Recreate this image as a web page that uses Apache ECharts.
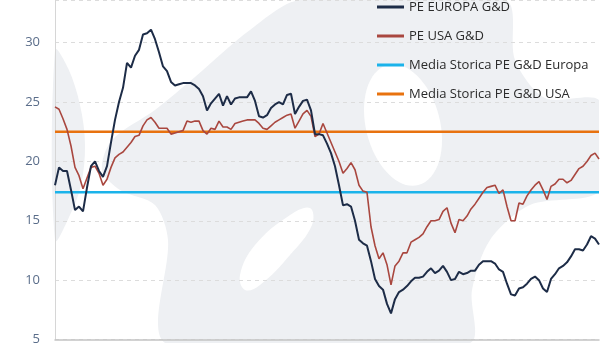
<!DOCTYPE html>
<html>
<head>
<meta charset="utf-8">
<script src="https://cdn.jsdelivr.net/npm/echarts@6/dist/echarts.min.js"></script>
<style>
html,body{margin:0;padding:0;background:#fff;}
#chart{width:614px;height:346px;}
</style>
</head>
<body>
<div id="chart"></div>
<script>
// serie storiche P/E
var peEuropa = [18.0,19.5,19.2,19.2,17.6,15.9,16.2,15.8,17.8,19.6,20.0,19.2,18.7,19.6,21.6,23.5,25.0,26.2,28.3,27.9,
	28.9,29.4,30.7,30.8,31.1,30.3,29.2,28.0,27.6,26.7,26.4,26.5,26.6,26.6,26.6,26.4,26.1,25.5,24.3,24.9,
	25.3,25.7,24.7,25.5,24.8,25.3,25.4,25.4,25.4,25.9,25.1,23.8,23.7,23.9,24.5,24.8,25.0,24.8,25.6,25.7,
	24.0,24.6,25.1,25.2,24.3,22.3,22.3,22.2,21.5,20.7,19.6,18.0,16.3,16.4,16.2,15.0,13.4,13.1,12.9,11.6,
	10.1,9.5,9.2,8.0,7.2,8.4,9.0,9.2,9.5,9.9,10.2,10.2,10.3,10.7,11.0,10.6,10.8,11.2,10.7,10.0,
	10.1,10.7,10.5,10.6,10.8,10.8,11.3,11.6,11.6,11.6,11.4,10.9,10.7,9.7,8.8,8.7,9.3,9.4,9.7,10.1,
	10.3,10.0,9.3,9.0,10.1,10.5,11.0,11.2,11.5,12.0,12.6,12.6,12.5,13.0,13.7,13.5,13.0];
var peUsa = [24.6,24.4,23.6,22.7,21.3,19.5,18.8,17.7,18.6,19.5,19.6,19.0,18.0,18.5,19.5,20.3,20.6,20.8,21.2,21.6,
	22.1,22.2,23.0,23.5,23.7,23.3,22.8,22.8,22.8,22.3,22.4,22.5,22.6,23.4,23.3,23.4,23.4,22.6,22.3,22.8,
	22.7,23.4,22.9,22.9,22.7,23.2,23.3,23.4,23.5,23.5,23.5,23.2,22.8,22.7,23.0,23.3,23.5,23.7,23.9,24.0,
	22.8,23.4,24.0,24.3,23.8,22.1,22.3,23.2,22.4,21.6,20.8,20.0,19.0,19.4,19.9,19.3,18.0,17.5,17.4,14.5,
	12.9,11.8,12.3,11.3,9.6,11.2,11.6,12.3,12.3,13.2,13.4,13.6,13.9,14.5,15.0,15.0,15.1,15.8,16.1,14.8,
	14.0,15.1,15.0,15.4,16.0,16.4,16.9,17.4,17.8,17.9,18.0,17.3,17.6,16.2,15.0,15.0,16.5,16.4,17.1,17.6,
	18.0,18.3,17.6,16.8,17.9,18.1,18.5,18.5,18.2,18.4,18.9,19.4,19.6,20.0,20.5,20.7,20.2];
var mediaEuropa = 17.4;
var mediaUsa = 22.5;
var yTicks = [5,10,15,20,25,30];
var nomi = ['PE EUROPA G&D','PE USA G&D','Media Storica PE G&D Europa','Media Storica PE G&D USA'];

var periodi = [];
for(var i=0;i<peEuropa.length;i++){
	periodi.push(i);
}
var lineaEuropa = [];
var lineaUsa = [];
for(var k=0;k<periodi.length;k++){
	lineaEuropa.push(mediaEuropa);
	lineaUsa.push(mediaUsa);
}

//logo in filigrana sullo sfondo (solo decorazione)
var grigio = '#eef0f3';
var filigrana = [
	{type:'polygon',z:-10,silent:true,style:{fill:grigio},
		shape:{smooth:0.35,points:[[55,50],[68,68],[80,105],[85,145],[81,185],[70,215],[55,240]]}},
	{type:'polygon',z:-10,silent:true,style:{fill:grigio},
		shape:{smooth:0.3,points:[[300,0],[250,30],[195,77],[155,110],[112,140],[102,170],[120,190],[155,205],[168,240],[165,343],
			[320,343],[470,343],[472,290],[490,240],[530,205],[599,192],[599,145],[599,100],[545,98],[515,60],[505,0]]}},
	{type:'ellipse',z:-9,silent:true,style:{fill:'#fff'},rotation:0.25,x:403,y:125,
		shape:{cx:0,cy:0,rx:37,ry:62}},
	{type:'polygon',z:-9,silent:true,style:{fill:'#fff'},
		shape:{smooth:0.4,points:[[240,275],[255,245],[290,215],[310,208],[312,225],[290,255],[260,285],[245,290]]}},
	//ritaglio ai bordi dell'area del grafico
	{type:'rect',z:-8,silent:true,style:{fill:'#fff'},shape:{x:0,y:343,width:614,height:3}},
	{type:'rect',z:-8,silent:true,style:{fill:'#fff'},shape:{x:599,y:0,width:15,height:346}}
];

var myChart = echarts.init(document.getElementById('chart'));
var option = {
	animation:false,
	backgroundColor:'#fff',
	textStyle:{fontFamily:'Open Sans'},
	graphic:filigrana,
	grid:{left:55,right:15,top:0,bottom:3},
	legend:{
		orient:'vertical',
		left:372,
		top:-6,
		itemWidth:27,
		itemHeight:3,
		itemGap:13,
		icon:'rect',
		data:nomi,
		textStyle:{color:'#2b2b2b',fontSize:13,lineHeight:16,fontFamily:'Open Sans'}
	},
	xAxis:{
		type:'category',
		data:periodi,
		boundaryGap:false,
		axisTick:{show:false},
		axisLabel:{show:false},
		axisLine:{lineStyle:{color:'#c4c4c4',width:1.5}},
		splitLine:{show:false}
	},
	yAxis:{
		type:'value',
		min:5,
		max:33.6,
		interval:5,
		axisLine:{show:true,lineStyle:{color:'#d6d6d6'}},
		axisTick:{show:false},
		axisLabel:{
			color:'#5a6d8a',
			fontSize:13,
			margin:15,
			formatter:function(v){
				return yTicks.indexOf(v)>=0 ? String(v) : '';
			}
		},
		splitLine:{lineStyle:{color:'#dcdcdc',type:[4,4]}}
	},
	series:[
		{name:nomi[0],type:'line',data:peEuropa,showSymbol:false,z:4,
			itemStyle:{color:'#1d2c47'},lineStyle:{color:'#1d2c47',width:2}},
		{name:nomi[1],type:'line',data:peUsa,showSymbol:false,z:3,
			itemStyle:{color:'#a9473f'},lineStyle:{color:'#a9473f',width:1.6}},
		{name:nomi[2],type:'line',data:lineaEuropa,showSymbol:false,z:2,
			itemStyle:{color:'#1bb3ea'},lineStyle:{color:'#1bb3ea',width:2.6}},
		{name:nomi[3],type:'line',data:lineaUsa,showSymbol:false,z:2,
			itemStyle:{color:'#e8720f'},lineStyle:{color:'#e8720f',width:2.6}}
	]
};
myChart.setOption(option);
</script>
</body>
</html>
